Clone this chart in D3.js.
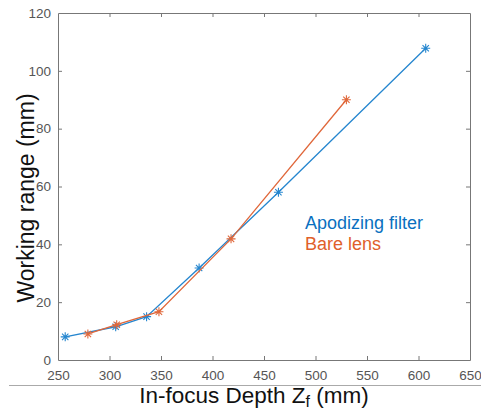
<!DOCTYPE html>
<html>
<head>
<meta charset="utf-8">
<script src="https://cdn.jsdelivr.net/npm/d3@7"></script>
<style>
  body { margin: 0; background: #fff; }
  text { font-family: "Liberation Sans", Arial, sans-serif; }
</style>
</head>
<body>
<div class="chart"></div>
<script>
const filterDepth = [257, 306, 336, 387, 464, 607];
const filterRange = [8, 11.5, 15, 31.8, 58, 107.8];
const bareDepth = [279, 307, 348, 418, 530];
const bareRange = [9, 12.2, 16.7, 41.9, 90];
const xTicks = [250, 300, 350, 400, 450, 500, 550, 600, 650];
const yTicks = [0, 20, 40, 60, 80, 100, 120];

const width = 481;
const height = 416;
const blue = '#2586cf';
const orange = '#e0673a';
const axisColor = '#777';

const svg = d3.select('.chart')
  .append('svg')
  .attr('width', width)
  .attr('height', height);

const xScale = d3.scaleLinear().domain([250, 650]).range([58, 470]);
const yScale = d3.scaleLinear().domain([0, 120]).range([360, 13]);

// axes, ticks pointing inward, box all round
const axisStyle = g => {
  g.select('.domain').attr('stroke', axisColor);
  g.selectAll('.tick line').attr('stroke', axisColor);
  g.selectAll('.tick text').attr('fill', '#555').attr('font-size', 13.5);
};

svg.append('g')
  .attr('transform', `translate(0,${yScale(0)})`)
  .call(d3.axisBottom(xScale).tickValues(xTicks).tickSizeInner(-4).tickSizeOuter(0).tickPadding(10))
  .call(axisStyle);

svg.append('g')
  .attr('transform', `translate(0,${yScale(120)})`)
  .call(d3.axisTop(xScale).tickValues(xTicks).tickSizeInner(-4).tickSizeOuter(0).tickFormat(''))
  .call(axisStyle);

svg.append('g')
  .attr('transform', `translate(${xScale(250)},0)`)
  .call(d3.axisLeft(yScale).tickValues(yTicks).tickSizeInner(-4).tickSizeOuter(0).tickPadding(7))
  .call(axisStyle);

svg.append('g')
  .attr('transform', `translate(${xScale(650)},0)`)
  .call(d3.axisRight(yScale).tickValues(yTicks).tickSizeInner(-4).tickSizeOuter(0).tickFormat(''))
  .call(axisStyle);

// remove the corner ticks so the box looks clean
svg.selectAll('.tick').filter(d => d === 250 || d === 650 || d === 0 || d === 120)
  .select('line').remove();

// separator line under the tick labels
svg.append('line')
  .attr('x1', 9).attr('x2', 481)
  .attr('y1', 385.5).attr('y2', 385.5)
  .attr('stroke', '#aaa')
  .attr('stroke-width', 1);

const line = d3.line()
  .x(d => xScale(d[0]))
  .y(d => yScale(d[1]));

function star(g, color) {
  const r = 4.5;
  const d = r * Math.SQRT1_2;
  g.append('path')
    .attr('d', `M${-r},0H${r}M0,${-r}V${r}M${-d},${-d}L${d},${d}M${-d},${d}L${d},${-d}`)
    .attr('stroke', color)
    .attr('stroke-width', 1.1)
    .attr('fill', 'none');
}

function drawSeries(xs, ys, color) {
  const pts = xs.map((x, i) => [x, ys[i]]);
  svg.append('path')
    .datum(pts)
    .attr('d', line)
    .attr('fill', 'none')
    .attr('stroke', color)
    .attr('stroke-width', 1.3);
  svg.selectAll(null)
    .data(pts)
    .enter()
    .append('g')
    .attr('transform', d => `translate(${xScale(d[0])},${yScale(d[1])})`)
    .each(function () { star(d3.select(this), color); });
}

drawSeries(filterDepth, filterRange, blue);
drawSeries(bareDepth, bareRange, orange);

// legend text
svg.append('text')
  .attr('x', 305).attr('y', 229)
  .attr('font-size', 18)
  .attr('fill', '#0a70c0')
  .text('Apodizing filter');

svg.append('text')
  .attr('x', 305).attr('y', 250)
  .attr('font-size', 18)
  .attr('fill', '#e0602a')
  .text('Bare lens');

// axis titles
const xLabel = svg.append('text')
  .attr('x', 254).attr('y', 403)
  .attr('text-anchor', 'middle')
  .attr('font-size', 22.5)
  .attr('fill', '#111');
xLabel.append('tspan').text('In-focus Depth Z');
xLabel.append('tspan').attr('font-size', 16).attr('dy', 4).text('f');
xLabel.append('tspan').attr('dy', -4).text(' (mm)');

svg.append('text')
  .attr('transform', 'translate(34,198) rotate(-90)')
  .attr('text-anchor', 'middle')
  .attr('font-size', 23)
  .attr('fill', '#111')
  .text('Working range (mm)');
</script>
</body>
</html>
